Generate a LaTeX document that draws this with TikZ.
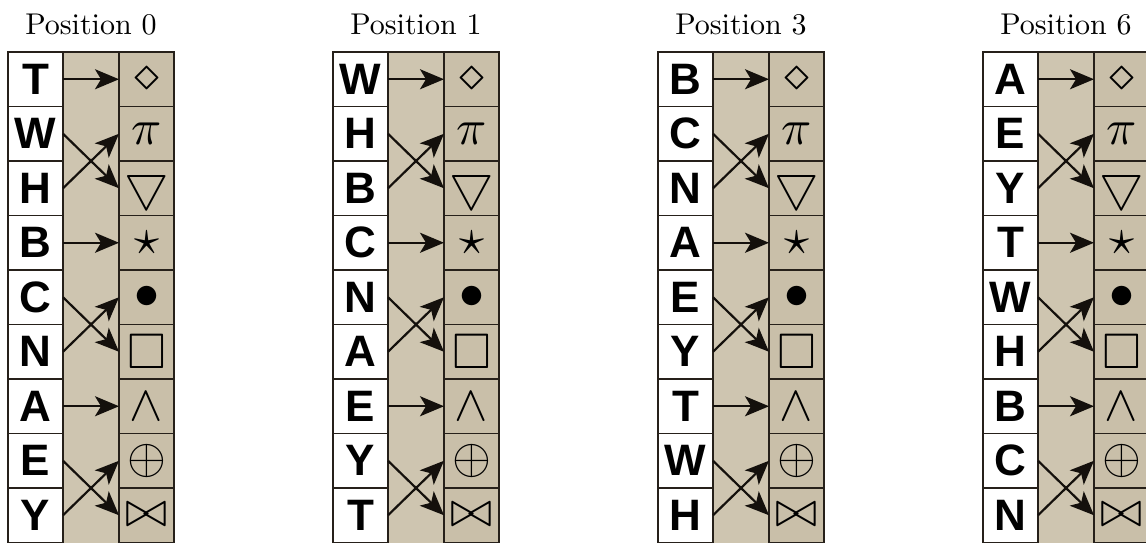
\documentclass[tikz,border=0pt]{standalone}
\usepackage{fontspec}
\usepackage{amssymb}
\usetikzlibrary{arrows.meta}
\newfontfamily\lettfont{Liberation Sans}
\definecolor{tanmid}{RGB}{206,197,176}
\definecolor{tansym}{RGB}{201,191,169}
\definecolor{edge}{RGB}{38,32,26}
\definecolor{arrowc}{RGB}{20,16,12}
\tikzset{
  cell/.style={draw=edge, line width=1.8pt, minimum width=55pt, minimum height=54.5pt,
    inner sep=0pt, outer sep=0pt, anchor=north west},
  lcell/.style={cell, fill=white, font=\lettfont\bfseries\fontsize{44}{44}\selectfont},
  scell/.style={cell, fill=tansym},
  link/.style={line width=2.2pt, draw=arrowc, -{Stealth[length=24pt,width=20pt,inset=6pt]}},
  title/.style={anchor=base, inner sep=0pt}}
\begin{document}
\begin{tikzpicture}[x=1pt,y=1pt]
\clip (0,0) rectangle (1146,-542);
\foreach \i/\n/\seq in {0/0/{T,W,H,B,C,N,A,E,Y},1/1/{W,H,B,C,N,A,E,Y,T},2/3/{B,C,N,A,E,Y,T,W,H},3/6/{A,E,Y,T,W,H,B,C,N}} {
  \pgfmathsetmacro\L{8+325*\i}
  \node[title] (t\i) at (\L+83,-34) {\scalebox{3}{Position \n}};
  \fill[tanmid] (\L+55,-52) rectangle (\L+111,-542.5);
  \foreach \c [count=\r from 0] in \seq {
    \node[lcell] (l\i-\r) at (\L,-52-54.5*\r) {\c};
  }
  \foreach \s [count=\r from 0] in {\diamond,\pi,\bigtriangledown,\star,\bullet,\square,\wedge,\oplus,\bowtie} {
    \node[scell] (s\i-\r) at (\L+111,-52-54.5*\r) {\scalebox{5}{$\s$}};
  }
  \draw[edge, line width=1.8pt] (\L,-52) -- (\L+165,-52);
  \foreach \a/\b in {0/0,1/2,2/1,3/3,4/5,5/4,6/6,7/8,8/7}
    \draw[link] (l\i-\a.east) -- (s\i-\b.west);
}
\end{tikzpicture}
\end{document}
